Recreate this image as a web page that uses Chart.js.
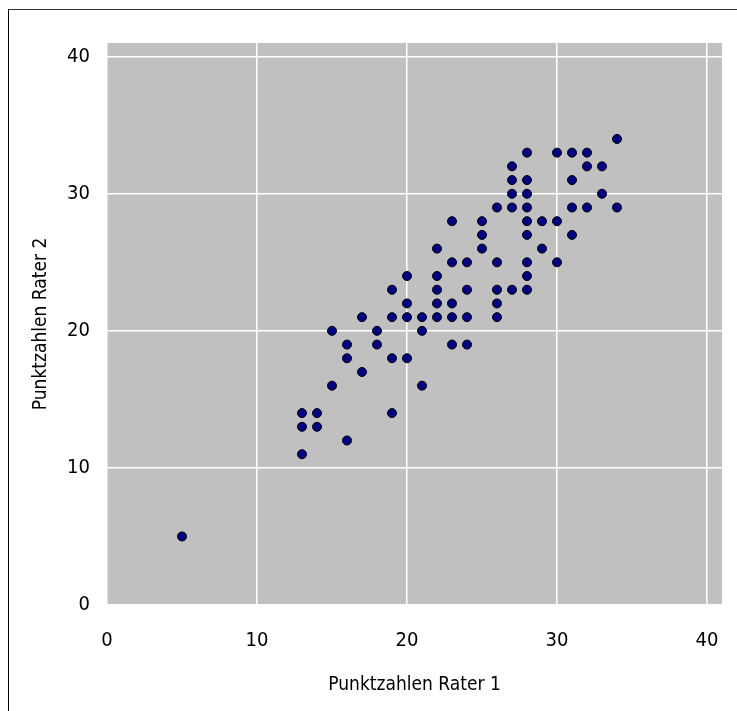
<!DOCTYPE html>
<html>
<head>
<meta charset="utf-8">
<script src="https://cdn.jsdelivr.net/npm/chart.js@4.4.1/dist/chart.umd.min.js"></script>
<style>
  html, body { margin: 0; padding: 0; background: #fff; overflow: hidden; }
  #wrap { width: 737px; height: 711px; position: relative; }
  canvas { display: block; }
</style>
</head>
<body>
<div id="wrap"><canvas id="c" width="737" height="711"></canvas></div>
<script>
// Data: Punktzahlen Rater 1 (x) vs Rater 2 (y)
const rater1 = [5,
  13,13,13,14,14,16,19,
  15,21,17,
  16,19,20,
  16,18,23,24,
  15,18,21,
  17,19,20,21,22,23,24,26,
  20,22,23,26,
  19,22,24,26,27,28,
  20,22,28,
  23,24,26,28,30,
  22,25,29,
  25,28,31,
  23,25,28,29,30,
  26,27,28,31,32,34,
  27,28,33,
  27,28,31,
  27,32,33,
  28,30,31,32,
  34];
const rater2 = [5,
  11,13,14,13,14,12,14,
  16,16,17,
  18,18,18,
  19,19,19,19,
  20,20,20,
  21,21,21,21,21,21,21,21,
  22,22,22,22,
  23,23,23,23,23,23,
  24,24,24,
  25,25,25,25,25,
  26,26,26,
  27,27,27,
  28,28,28,28,28,
  29,29,29,29,29,29,
  30,30,30,
  31,31,31,
  32,32,32,
  33,33,33,33,
  34];
const axisTicks = [0, 10, 20, 30, 40];
const axisMin = 0, axisMax = 41;
const xTitle = 'Punktzahlen Rater 1';
const yTitle = 'Punktzahlen Rater 2';

const points = rater1.map((x, i) => ({ x: x, y: rater2[i] }));
const FONT = "'DejaVu Sans Condensed', 'Liberation Sans', sans-serif";

const bgPlugin = {
  id: 'bg',
  beforeDraw(chart) {
    const { ctx, chartArea: a } = chart;
    ctx.save();
    ctx.fillStyle = '#fff';
    ctx.fillRect(0, 0, chart.width, chart.height);
    ctx.fillStyle = '#333';
    ctx.fillRect(8, 9, chart.width, 1);
    ctx.fillStyle = '#000';
    ctx.fillRect(8, 9, 1, chart.height);
    ctx.fillStyle = '#c0c0c0';
    ctx.fillRect(a.left, a.top, a.right - a.left, a.bottom - a.top);
    ctx.restore();
  }
};

function fixTicks(scale) {
  scale.ticks = axisTicks.map(v => ({ value: v }));
}

new Chart(document.getElementById('c'), {
  type: 'scatter',
  data: {
    datasets: [{
      data: points,
      backgroundColor: '#000080',
      borderColor: '#000000',
      borderWidth: 1,
      pointRadius: 4.5,
      pointHoverRadius: 4.5
    }]
  },
  options: {
    responsive: false,
    animation: false,
    events: [],
    layout: { padding: { left: 30, top: 43, right: 15, bottom: 15 } },
    plugins: { legend: { display: false }, tooltip: { enabled: false } },
    scales: {
      x: {
        type: 'linear', min: axisMin, max: axisMax,
        afterBuildTicks: fixTicks,
        afterFit(s) { s.height = 91; s.paddingLeft = 0; s.paddingRight = 0; },
        border: { display: false },
        grid: { color: '#ffffff', lineWidth: 1.5, drawTicks: false },
        ticks: { color: '#000', font: { family: FONT, size: 20 }, padding: 24, maxRotation: 0 },
        title: { display: true, text: xTitle, color: '#000', font: { family: FONT, size: 19 }, padding: 0 }
      },
      y: {
        type: 'linear', min: axisMin, max: axisMax,
        afterBuildTicks: fixTicks,
        afterFit(s) { s.width = 77; s.paddingTop = 0; s.paddingBottom = 0; },
        border: { display: false },
        grid: { color: '#ffffff', lineWidth: 1.5, drawTicks: false },
        ticks: { color: '#000', font: { family: FONT, size: 20 }, padding: 17 },
        title: { display: true, text: yTitle, color: '#000', font: { family: FONT, size: 19 }, padding: 0 }
      }
    }
  },
  plugins: [bgPlugin]
});
</script>
</body>
</html>
